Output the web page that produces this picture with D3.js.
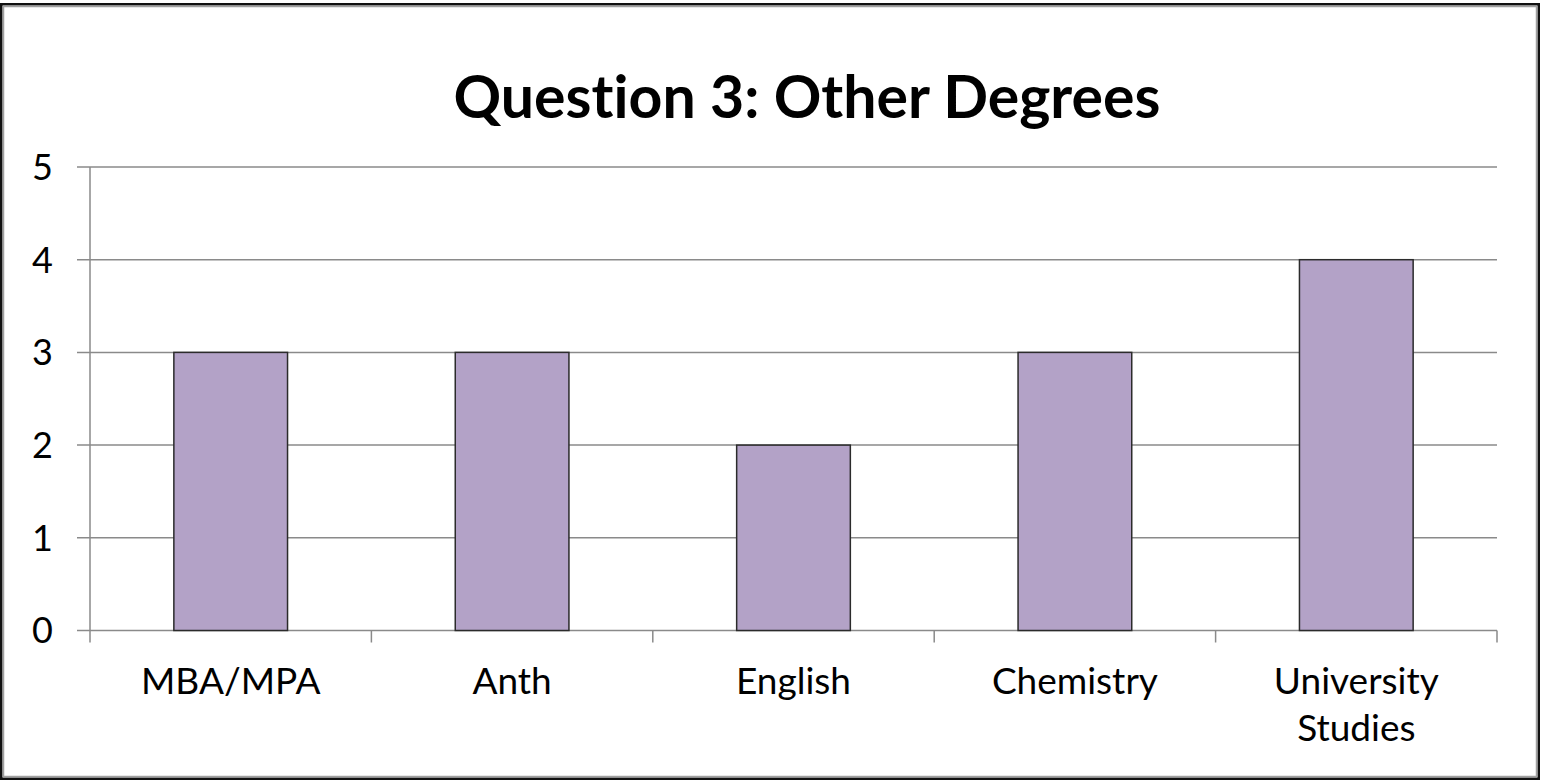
<!DOCTYPE html>
<html>
<head>
<meta charset="utf-8">
<script src="https://cdnjs.cloudflare.com/ajax/libs/d3/7.8.5/d3.min.js"></script>
<style>
  body { margin: 0; background: #fff; }
  svg { display: block; }
  text { font-family: Lato, "Open Sans", sans-serif; fill: #000; font-variant-ligatures: none; }
</style>
</head>
<body>
<div id="chart"></div>
<script>
// Chart data
var categories = ["MBA/MPA", "Anth", "English", "Chemistry", "University Studies"];
var counts = [3, 3, 2, 3, 4];
var yTicks = [0, 1, 2, 3, 4, 5];
var title = "Question 3: Other Degrees";

var svgWidth = 1541;
var svgHeight = 782;

var margin = { top: 167, right: 44, bottom: 151.5, left: 90 };
var width = svgWidth - margin.left - margin.right;
var height = svgHeight - margin.top - margin.bottom;

var svg = d3.select("#chart")
  .append("svg")
  .attr("width", svgWidth)
  .attr("height", svgHeight);

// outer frame
svg.append("rect")
  .attr("x", 1.25).attr("y", 4.25)
  .attr("width", 1537.5).attr("height", 774.5)
  .attr("fill", "#fff")
  .attr("stroke", "#111")
  .attr("stroke-width", 2.5);
svg.append("rect")
  .attr("x", 3.5).attr("y", 6.5)
  .attr("width", 1533).attr("height", 770)
  .attr("fill", "none")
  .attr("stroke", "#a0a0a0")
  .attr("stroke-width", 1.5);

// title
svg.append("text")
  .attr("x", 807)
  .attr("y", 118)
  .attr("text-anchor", "middle")
  .style("font-size", "59px")
  .style("font-weight", "bold")
  .text(title);

var chartGroup = svg.append("g")
  .attr("transform", `translate(${margin.left}, ${margin.top})`);

// scales
var xBand = d3.scaleBand()
  .domain(categories)
  .range([0, width])
  .paddingInner(0.596)
  .paddingOuter(0.298);

var yLinear = d3.scaleLinear()
  .domain([0, 5])
  .range([height, 0]);

var gridColor = "#8a8a8a";

// gridlines + y ticks
chartGroup.selectAll(".grid")
  .data(yTicks)
  .enter()
  .append("line")
  .attr("class", "grid")
  .attr("x1", -13)
  .attr("x2", width)
  .attr("y1", d => yLinear(d))
  .attr("y2", d => yLinear(d))
  .attr("stroke", gridColor)
  .attr("stroke-width", 1.5);

chartGroup.selectAll(".ylabel")
  .data(yTicks)
  .enter()
  .append("text")
  .attr("class", "ylabel")
  .attr("x", -37)
  .attr("y", d => yLinear(d))
  .attr("dy", "0.36em")
  .attr("text-anchor", "end")
  .style("font-size", "36px")
  .text(d => d);

// y axis line
chartGroup.append("line")
  .attr("x1", 0).attr("x2", 0)
  .attr("y1", yLinear(5)).attr("y2", yLinear(0))
  .attr("stroke", gridColor)
  .attr("stroke-width", 1.5);

// category boundary ticks
var step = xBand.step();
var edges = d3.range(categories.length + 1);
chartGroup.selectAll(".xtick")
  .data(edges)
  .enter()
  .append("line")
  .attr("class", "xtick")
  .attr("x1", d => d * step)
  .attr("x2", d => d * step)
  .attr("y1", height)
  .attr("y2", height + 12)
  .attr("stroke", gridColor)
  .attr("stroke-width", 1.5);

// bars
chartGroup.selectAll(".bar")
  .data(counts)
  .enter()
  .append("rect")
  .attr("class", "bar")
  .attr("x", (d, i) => xBand(categories[i]))
  .attr("y", d => yLinear(d))
  .attr("width", xBand.bandwidth())
  .attr("height", d => height - yLinear(d))
  .attr("fill", "#b3a2c7")
  .attr("stroke", "#2b2b2b")
  .attr("stroke-width", 1.5);

// category labels (wrapped when too wide)
var xLabels = chartGroup.selectAll(".xlabel")
  .data(categories)
  .enter()
  .append("text")
  .attr("class", "xlabel")
  .attr("text-anchor", "middle")
  .attr("transform", d => `translate(${xBand(d) + xBand.bandwidth() / 2}, ${height + 63})`)
  .style("font-size", "37px")
  .text(d => d);

xLabels.each(function(d) {
  var t = d3.select(this);
  if (this.getComputedTextLength() > 240) {
    var words = d.split(" ");
    t.text(null);
    words.forEach(function(w, i) {
      t.append("tspan")
        .attr("x", 0)
        .attr("y", i * 47)
        .text(w);
    });
  }
});
</script>
</body>
</html>
